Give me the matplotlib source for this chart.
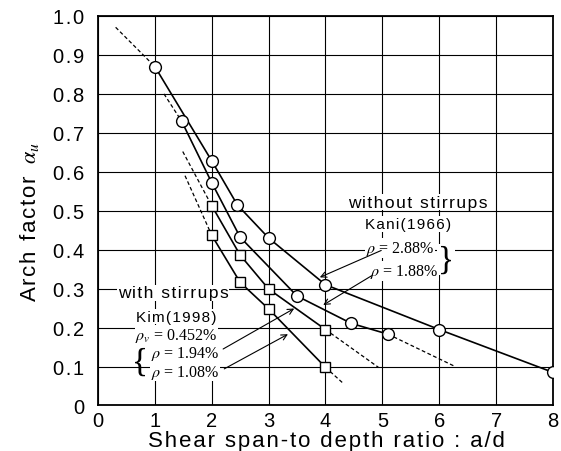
import numpy as np
import matplotlib
matplotlib.use("Agg")
import matplotlib.pyplot as plt
from matplotlib.ticker import FixedLocator, FuncFormatter

plt.rcParams['font.family'] = ['Liberation Sans', 'DejaVu Sans']
plt.rcParams['mathtext.fontset'] = 'stix'

# Kani(1966), without stirrups
kani288_x = [1, 2, 2.45, 3, 4, 6, 8]
kani288_y = [0.87, 0.628, 0.515, 0.43, 0.31, 0.195, 0.085]
kani288_dash_x = [0.31, 1]
kani288_dash_y = [0.971, 0.87]

kani188_x = [1.47, 2, 2.5, 3.5, 4.45, 5.1]
kani188_y = [0.73, 0.572, 0.432, 0.281, 0.211, 0.183]
kani188_dash_up_x = [1.16, 1.47]
kani188_dash_up_y = [0.80, 0.73]
kani188_dash_dn_x = [5.1, 6.28]
kani188_dash_dn_y = [0.183, 0.10]

# Kim(1998), with stirrups
kim194_x = [2, 2.5, 3, 4]
kim194_y = [0.513, 0.386, 0.299, 0.195]
kim194_dash_up_x = [1.49, 2]
kim194_dash_up_y = [0.652, 0.513]
kim194_dash_dn_x = [4, 4.93]
kim194_dash_dn_y = [0.195, 0.098]

kim108_x = [2, 2.5, 3, 4]
kim108_y = [0.437, 0.316, 0.248, 0.098]
kim108_dash_up_x = [1.53, 2]
kim108_dash_up_y = [0.59, 0.437]
kim108_dash_dn_x = [4, 4.31]
kim108_dash_dn_y = [0.098, 0.057]

xticks = [0, 1, 2, 3, 4, 5, 6, 7, 8]
yticks = [0, 0.1, 0.2, 0.3, 0.4, 0.5, 0.6, 0.7, 0.8, 0.9, 1.0]


def sp(s):
    # the original lettering is a bit spread out, fake it with hair spaces
    return '\u200a'.join(s)


fig = plt.figure(figsize=(5.61, 4.52), dpi=100)
ax = fig.add_axes([0.1747, 0.1007, 0.811, 0.8617])

ax.set_xlim(0, 8)
ax.set_ylim(0, 1.0)
ax.xaxis.set_major_locator(FixedLocator(xticks))
ax.yaxis.set_major_locator(FixedLocator(yticks))
ax.xaxis.set_major_formatter(FuncFormatter(lambda v, p: "%d" % v))
ax.yaxis.set_major_formatter(FuncFormatter(lambda v, p: "0" if v == 0 else sp("%.1f" % v)))
ax.grid(True, color='black', linewidth=0.8)
ax.set_axisbelow(True)
ax.tick_params(length=0, labelsize=14.5)
ax.tick_params(axis='y', pad=10)
ax.tick_params(axis='x', pad=4)
for s in ax.spines.values():
    s.set_linewidth(1.3)

lw = 1.2
dash = dict(color='black', lw=0.9, ls=(0, (3, 2)))
circ = dict(marker='o', ms=8.5, mfc='white', mec='black', mew=1.0, color='black', lw=lw)
sq = dict(marker='s', ms=7, mfc='white', mec='black', mew=1.0, color='black', lw=lw)

ax.plot(kani288_dash_x, kani288_dash_y, **dash)
ax.plot(kani188_dash_up_x, kani188_dash_up_y, **dash)
ax.plot(kani188_dash_dn_x, kani188_dash_dn_y, **dash)
ax.plot(kim194_dash_up_x, kim194_dash_up_y, **dash)
ax.plot(kim194_dash_dn_x, kim194_dash_dn_y, **dash)
ax.plot(kim108_dash_up_x, kim108_dash_up_y, **dash)
ax.plot(kim108_dash_dn_x, kim108_dash_dn_y, **dash)

ax.plot(kani288_x, kani288_y, **circ, zorder=3)
ax.plot(kani188_x, kani188_y, **circ, zorder=3)
ax.plot(kim194_x, kim194_y, **sq, zorder=3)
ax.plot(kim108_x, kim108_y, **sq, zorder=3)

wbox = dict(facecolor='white', edgecolor='none', pad=0.5)
serif = ['Liberation Serif', 'DejaVu Serif']

# without stirrups
ax.text(5.62, 0.522, sp("without stirrups"), fontsize=12.5, ha='center', va='center', bbox=wbox)
ax.text(5.46, 0.466, sp("Kani(1966)"), fontsize=11, ha='center', va='center', bbox=wbox)
ax.text(5.31, 0.404, r"$\rho$ = 2.88%", fontsize=11.5, family=serif, ha='center', va='center', bbox=wbox)
ax.text(5.38, 0.345, r"$\rho$ = 1.88%", fontsize=11.5, family=serif, ha='center', va='center', bbox=wbox)
ax.text(6.12, 0.375, "}", fontsize=24, family=serif, ha='center', va='center', bbox=wbox)
arr = dict(arrowstyle='->', color='black', lw=0.8, shrinkA=0, shrinkB=0)
ax.annotate("", xy=(3.9, 0.329), xytext=(4.98, 0.398), arrowprops=arr)
ax.annotate("", xy=(3.96, 0.258), xytext=(4.81, 0.333), arrowprops=arr)

# with stirrups
ax.text(1.32, 0.289, sp("with stirrups"), fontsize=12.5, ha='center', va='center', bbox=wbox)
ax.text(1.38, 0.228, sp("Kim(1998)"), fontsize=11, ha='center', va='center', bbox=wbox)
ax.text(1.38, 0.181, r"$\rho_v$ = 0.452%", fontsize=11.5, family=serif, ha='center', va='center', bbox=wbox)
ax.text(1.53, 0.136, r"$\rho$ = 1.94%", fontsize=11.5, family=serif, ha='center', va='center', bbox=wbox)
ax.text(1.53, 0.087, r"$\rho$ = 1.08%", fontsize=11.5, family=serif, ha='center', va='center', bbox=wbox)
ax.text(0.74, 0.112, "{", fontsize=24, family=serif, ha='center', va='center')
ax.annotate("", xy=(3.45, 0.249), xytext=(2.2, 0.145), arrowprops=arr)
ax.annotate("", xy=(3.34, 0.183), xytext=(2.22, 0.094), arrowprops=arr)

ax.set_xlabel(sp("Shear span-to depth ratio : a/d"), fontsize=16)
ax.xaxis.set_label_coords(0.503, -0.062)
ax.set_ylabel(sp("Arch factor") + r"  $\alpha_u$", fontsize=16)
ax.yaxis.set_label_coords(-0.125, 0.474)

fig.savefig("out.png", dpi=100)
